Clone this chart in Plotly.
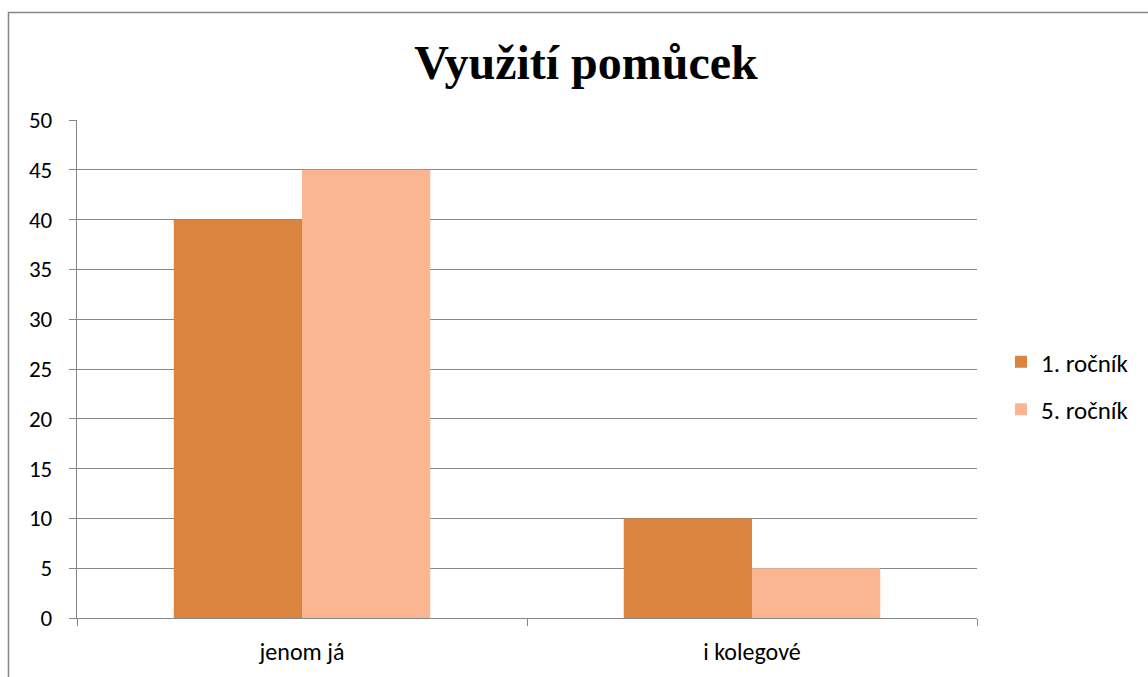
import plotly.graph_objects as go

categories = ["jenom já", "i kolegové"]
series_names = ["1. ročník", "5. ročník"]
values_1 = [40, 10]
values_5 = [45, 5]
colors = ["#DA843F", "#F9B691"]
y_ticks = [0, 5, 10, 15, 20, 25, 30, 35, 40, 45, 50]

W, H = 1148, 677
ML, MR, MT, MB = 77, 171, 120, 59
PW, PH = W - ML - MR, H - MT - MB

def px_x(px):
    return (px - ML) / PW

def px_y(py):
    return (H - MB - py) / PH

font_main = "Carlito, Calibri, Lato, sans-serif"

fig = go.Figure()
for name, vals, col in zip(series_names, [values_1, values_5], colors):
    fig.add_trace(go.Bar(
        x=categories, y=vals, name=name, legendgroup=name,
        marker=dict(color=col, line=dict(width=0)),
    ))

fig.update_layout(
    width=W, height=H,
    margin=dict(l=ML, r=MR, t=MT, b=MB),
    paper_bgcolor="white", plot_bgcolor="white",
    barmode="group", bargap=0.43, bargroupgap=0,
    title=dict(text="<b>Využití pomůcek</b>", x=586 / W, xref="container",
               y=1 - 62 / H, yref="container", xanchor="center", yanchor="middle",
               font=dict(family="Liberation Serif, Times New Roman, serif", size=48, color="black")),
    font=dict(family=font_main, size=23, color="black"),
    showlegend=True,
    legend=dict(x=px_x(1001), y=px_y(339), xanchor="left", yanchor="top",
                traceorder="grouped", tracegroupgap=12,
                font=dict(family=font_main, size=25, color="black"),
                bgcolor="rgba(0,0,0,0)", itemwidth=30),
    xaxis=dict(showline=True, linecolor="#868686", linewidth=1.3,
               ticks="outside", ticklen=7, tickcolor="#868686", tickwidth=1.3,
               tickson="boundaries", showgrid=False,
               tickfont=dict(family=font_main, size=24), ticklabelstandoff=12),
    yaxis=dict(range=[0, 50], tickvals=y_ticks, showline=True, linecolor="#868686",
               linewidth=1.3, ticks="outside", ticklen=7, tickcolor="#868686", tickwidth=1.3,
               showgrid=True, gridcolor="#868686", gridwidth=1.3, zeroline=False,
               tickfont=dict(family=font_main, size=23), ticklabelstandoff=12),
    shapes=[dict(type="rect", xref="paper", yref="paper",
                 x0=px_x(8.5), x1=px_x(1170), y0=px_y(700), y1=px_y(12.5),
                 line=dict(color="#868686", width=1.5), fillcolor="rgba(0,0,0,0)", layer="below")],
)

fig.write_html("out.html", config={"displayModeBar": False},
               post_script="document.body.style.margin='0';document.body.style.padding='0';")
